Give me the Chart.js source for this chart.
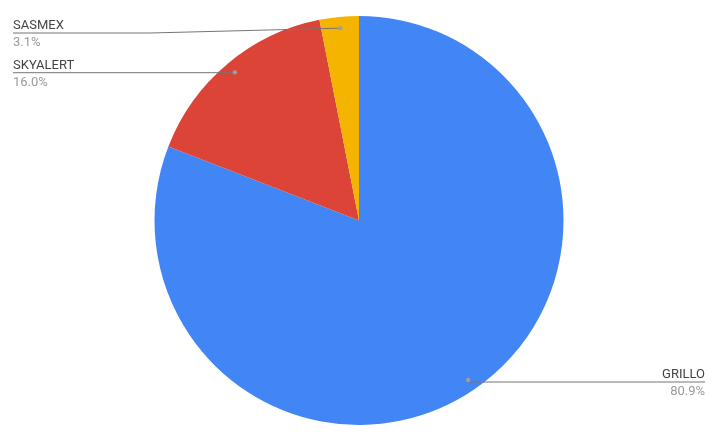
<!DOCTYPE html>
<html>
<head>
<meta charset="utf-8">
<script src="https://cdn.jsdelivr.net/npm/chart.js@4/dist/chart.umd.min.js"></script>
<style>
html,body{margin:0;padding:0;background:#fff;}
#wrap{width:720px;height:439px;position:relative;}
</style>
</head>
<body>
<div id="wrap"><canvas id="c" width="720" height="439"></canvas></div>
<script>
const categories = ["GRILLO", "SKYALERT", "SASMEX"];
const values = [80.9, 16.0, 3.1];
const colors = ["#4285F4", "#DB4437", "#F4B400"];

// label placement (layout only): side, line y, line end x, optional bend x
const labelLayout = [
  {side: "right", lineY: 382, endX: 705},
  {side: "left", lineY: 72.7, endX: 13},
  {side: "left", lineY: 33, endX: 13, bendX: 150}
];

const labelPlugin = {
  id: "leaderLabels",
  afterDatasetsDraw(chart) {
    const ctx = chart.ctx;
    const meta = chart.getDatasetMeta(0);
    const data = chart.data.datasets[0].data;
    const total = data.reduce((a, b) => a + b, 0);
    meta.data.forEach((arc, i) => {
      const p = arc.getProps(["x", "y", "startAngle", "endAngle", "outerRadius"], true);
      const mid = (p.startAngle + p.endAngle) / 2;
      const rr = p.outerRadius * 0.945;
      const dx = p.x + Math.cos(mid) * rr;
      const dy = p.y + Math.sin(mid) * rr;
      const L = labelLayout[i];
      ctx.save();
      ctx.strokeStyle = "#757575";
      ctx.lineWidth = 1;
      ctx.beginPath();
      ctx.moveTo(dx, dy);
      if (L.bendX !== undefined) {
        ctx.lineTo(L.bendX, L.lineY);
      } else {
        ctx.lineTo(dx, L.lineY);
      }
      ctx.lineTo(L.endX, L.lineY);
      ctx.stroke();
      ctx.fillStyle = "#9e9e9e";
      ctx.beginPath();
      ctx.arc(dx, dy, 2.2, 0, Math.PI * 2);
      ctx.fill();
      ctx.font = "13px Roboto";
      ctx.textAlign = L.side === "right" ? "right" : "left";
      ctx.textBaseline = "alphabetic";
      ctx.fillStyle = "#444444";
      ctx.fillText(chart.data.labels[i], L.endX, L.lineY - 4);
      ctx.fillStyle = "#9a9a9a";
      ctx.fillText((data[i] / total * 100).toFixed(1) + "%", L.endX, L.lineY + 13);
      ctx.restore();
    });
  }
};

new Chart(document.getElementById("c"), {
  type: "pie",
  data: {
    labels: categories,
    datasets: [{
      data: values,
      backgroundColor: colors,
      borderColor: "#ffffff",
      borderWidth: 0
    }]
  },
  options: {
    responsive: false,
    animation: false,
    layout: {padding: {top: 16, bottom: 14, left: 0, right: 2}},
    plugins: {legend: {display: false}, tooltip: {enabled: false}}
  },
  plugins: [labelPlugin]
});
</script>
</body>
</html>
